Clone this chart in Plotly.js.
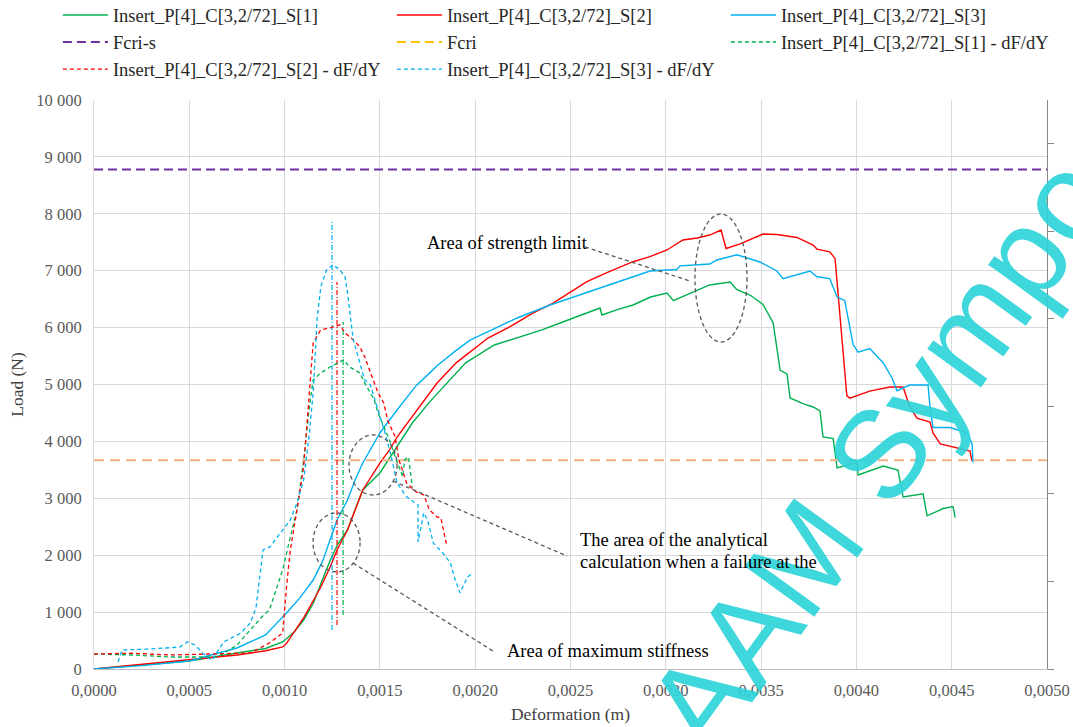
<!DOCTYPE html>
<html>
<head>
<meta charset="utf-8">
<script src="https://cdn.plot.ly/plotly-3.0.1.min.js"></script>
<style>html,body{margin:0;padding:0;background:#fff;}#chart{width:1073px;height:727px;}</style>
</head>
<body>
<div id="chart"></div>
<script>
// ---------- DATA ----------
// Load curves (x: deformation in m, y: load in N)
const s1X = [0,0.00025,0.0005,0.00075,0.0009,0.00099,0.00105,0.0011,0.00115,0.00119,0.00124,0.00128,0.00133,0.00137,0.00141,0.0015,0.00158,0.00167,0.00176,0.00185,0.00195,0.0021,0.00222,0.00235,0.002445,0.00255,0.002655,0.002665,0.00275,0.002828,0.00292,0.003006,0.00304,0.003127,0.00323,0.003337,0.003373,0.003442,0.00351,0.003563,0.0036,0.003636,0.003652,0.00372,0.003773,0.003809,0.003825,0.003878,0.003899,0.004003,0.004009,0.004141,0.004218,0.004245,0.00435,0.004371,0.004455,0.004507,0.004518];
const s1Y = [0,75,140,281,360,475,650,861,1150,1500,1915,2200,2443,2800,3146,3445,3850,4323,4690,5026,5380,5694,5817,5960,6081,6210,6344,6221,6320,6397,6538,6608,6473,6601,6749,6801,6665,6573,6408,6085,5248,5185,4763,4663,4605,4535,4080,4049,3533,3630,3410,3568,3498,3023,3080,2693,2820,2854,2661];

const s2X = [0,0.00025,0.0005,0.00075,0.0009,0.00099,0.00101,0.00105,0.0011,0.00115,0.00119,0.00124,0.001275,0.00133,0.00137,0.00141,0.0015,0.00155,0.00159,0.00165,0.00171,0.0018,0.0019,0.002,0.002067,0.002183,0.0023,0.002409,0.002586,0.0027,0.002828,0.002917,0.003006,0.00309,0.003164,0.00323,0.00329,0.003316,0.00339,0.00351,0.003583,0.003688,0.00374,0.003773,0.003793,0.00386,0.003888,0.00395,0.003966,0.00407,0.004176,0.004245,0.00428,0.004318,0.004386,0.004402,0.00444,0.004528,0.004596,0.004606];
const s2Y = [0,85,158,246,320,387,450,650,900,1200,1441,1800,2091,2443,2800,3146,3620,3849,4077,4350,4605,5026,5380,5650,5817,6016,6250,6432,6807,6980,7158,7248,7364,7540,7575,7627,7715,7390,7470,7645,7635,7584,7505,7450,7380,7330,7216,4800,4760,4884,4955,4955,4605,4410,4340,4148,3955,3885,3831,3660];

const s3X = [0,0.00025,0.0005,0.00075,0.0009,0.00101,0.00108,0.00115,0.0012,0.00124,0.001275,0.00133,0.00137,0.00141,0.0015,0.00159,0.00169,0.00176,0.0018,0.0019,0.001973,0.00222,0.002393,0.002655,0.002917,0.003058,0.003075,0.00323,0.003268,0.003373,0.003405,0.003494,0.003583,0.003615,0.003757,0.003793,0.00386,0.003899,0.003939,0.003983,0.004009,0.00407,0.004141,0.004187,0.004213,0.00428,0.004376,0.004386,0.004402,0.004491,0.004581,0.004607,0.004612];
const s3Y = [0,60,140,369,600,984,1250,1564,1900,2267,2619,2970,3322,3620,4148,4552,4980,5200,5330,5600,5780,6169,6397,6696,6995,7021,7086,7118,7188,7280,7248,7153,6995,6860,6995,6893,6860,6538,6473,5697,5570,5633,5378,5114,4890,4990,4990,4605,4243,4243,4148,3955,3630];

// Critical loads (N)
const fcriS = 8780;
const fcri = 3670;
const xSpan = [0, 0.005];

// dF/dY curves (secondary axis, unlabeled)
const d1X = [0,0.0002,0.0004,0.0006,0.00065,0.00075,0.00082,0.00089,0.00092,0.00096,0.00099,0.00103,0.001065,0.0011,0.00113,0.00115,0.00119,0.00124,0.00131,0.00134,0.001395,0.00142,0.00147,0.00149,0.00152,0.00155,0.00158,0.0016,0.00162,0.00163,0.00165,0.00167];
const d1Y = [171,160,137,137,137,274,450,617,674,937,1131,1509,1817,2389,2995,3303,3383,3452,3532,3452,3383,3269,3075,2926,2766,2617,2423,2309,2195,2389,2423,2080];

const d2X = [0,0.0002,0.0004,0.0006,0.00082,0.00092,0.00099,0.00101,0.00103,0.001065,0.0011,0.00113,0.00115,0.00119,0.00124,0.00129,0.001317,0.00136,0.001395,0.00142,0.00146,0.00149,0.00152,0.00154,0.00158,0.0016,0.00164,0.00169,0.00173,0.00176,0.0018,0.00182,0.00185];
const d2Y = [171,180,160,171,183,297,411,937,1360,1817,2309,3155,3726,3875,3898,3932,3840,3760,3680,3566,3337,3155,3040,2846,2652,2389,2126,2023,1989,1817,1737,1726,1417];

const d3X = [0.000126,0.000147,0.0003,0.00045,0.00049,0.00053,0.00057,0.0006,0.00062,0.00068,0.00077,0.00082,0.00085,0.000887,0.000923,0.00099,0.00103,0.001065,0.0011,0.00113,0.00115,0.00117,0.00119,0.00122,0.001254,0.00129,0.001317,0.001333,0.00136,0.001386,0.00142,0.00145,0.001485,0.001527,0.00156,0.00159,0.00164,0.0017,0.0017,0.00173,0.00175,0.00178,0.00183,0.00187,0.00189,0.00192,0.00196,0.00199];
const d3Y = [80,217,229,251,309,274,183,126,103,309,411,526,700,1360,1394,1589,1703,1897,2160,2697,3155,3989,4366,4560,4618,4560,4480,4252,3760,3566,3303,3246,2995,2697,2423,2126,1966,1875,1452,1783,1703,1440,1326,1212,1052,869,1052,1097];

// Vertical markers at the max-stiffness deformation (x in m, y extent in N)
const vBlueX = 0.001249, vBlueY = [685, 7856];
const vRedX = 0.001275, vRedY = [773, 6800];
const vGreenX = 0.001307, vGreenY = [949, 6098];

const names = ['Insert_P[4]_C[3,2/72]_S[1]','Insert_P[4]_C[3,2/72]_S[2]','Insert_P[4]_C[3,2/72]_S[3]'];
const cGreen = '#00B050', cRed = '#FF0000', cBlue = '#00B0F0';

const FONT = 'Liberation Serif';

const traces = [
  {x:s1X, y:s1Y, name:names[0], mode:'lines', line:{color:cGreen, width:1.4}},
  {x:s2X, y:s2Y, name:names[1], mode:'lines', line:{color:cRed, width:1.4}},
  {x:s3X, y:s3Y, name:names[2], mode:'lines', line:{color:cBlue, width:1.4}},
  {x:xSpan, y:[fcriS, fcriS], name:'Fcri-s', mode:'lines', line:{color:'#7030A0', width:2, dash:'9px,5px'}},
  {x:xSpan, y:[fcri, fcri], name:'Fcri', mode:'lines', showlegend:false, line:{color:'#F4B183', width:2, dash:'10px,6px'}},
  {x:[null], y:[null], name:'Fcri', mode:'lines', line:{color:'#FFC000', width:2, dash:'9px,5px'}},
  {x:d1X, y:d1Y, name:names[0]+' - dF/dY', mode:'lines', yaxis:'y2', line:{color:cGreen, width:1.3, dash:'4px,3px'}},
  {x:d2X, y:d2Y, name:names[1]+' - dF/dY', mode:'lines', yaxis:'y2', line:{color:cRed, width:1.3, dash:'4px,3px'}},
  {x:d3X, y:d3Y, name:names[2]+' - dF/dY', mode:'lines', yaxis:'y2', line:{color:cBlue, width:1.3, dash:'4px,3px'}},
  {x:[vBlueX, vBlueX], y:vBlueY, mode:'lines', showlegend:false, line:{color:cBlue, width:1.2, dash:'5px,2px,1px,2px'}},
  {x:[vRedX, vRedX], y:vRedY, mode:'lines', showlegend:false, line:{color:cRed, width:1.2, dash:'5px,2px,1px,2px'}},
  {x:[vGreenX, vGreenX], y:vGreenY, mode:'lines', showlegend:false, line:{color:cGreen, width:1.2, dash:'5px,2px,1px,2px'}}
];

const dashGrey = {color:'#595959', width:1.3, dash:'4px,3px'};
const shapes = [
  {type:'circle', xref:'x', yref:'y', x0:0.003153, x1:0.003426, y0:5747, y1:7997, line:dashGrey},
  {type:'circle', xref:'x', yref:'y', x0:0.001338, x1:0.00159, y0:3058, y1:4113, line:dashGrey},
  {type:'circle', xref:'x', yref:'y', x0:0.001149, x1:0.001396, y0:1705, y1:2742, line:dashGrey},
  {type:'line', xref:'x', yref:'y', x0:0.002576, y0:7417, x1:0.003127, y1:6819, line:dashGrey},
  {type:'line', xref:'x', yref:'y', x0:0.001569, y0:3304, x1:0.002482, y1:1986, line:dashGrey},
  {type:'line', xref:'x', yref:'y', x0:0.001359, y0:1863, x1:0.002093, y1:316, line:dashGrey}
];

const annFont = {family:FONT, size:18.5, color:'#000000'};
const annotations = [
  {xref:'paper', yref:'paper', x:0.9056, y:0.566, text:'AAM Symposium', showarrow:false, textangle:-54, xanchor:'center', yanchor:'middle',
   opacity:0.92, font:{family:'Liberation Sans', size:125, color:'#2ED4DA'}},
  {xref:'x', yref:'y', x:0.001737, y:7487, text:'Area of strength limit', showarrow:false, xanchor:'left', yanchor:'middle', font:annFont},
  {xref:'x', yref:'y', x:0.002539, y:2267, text:'The area of the analytical', showarrow:false, xanchor:'left', yanchor:'middle', font:annFont},
  {xref:'x', yref:'y', x:0.002539, y:1881, text:'calculation when a failure at the', showarrow:false, xanchor:'left', yanchor:'middle', font:annFont},
  {xref:'x', yref:'y', x:0.002156, y:316, text:'Area of maximum stiffness', showarrow:false, xanchor:'left', yanchor:'middle', font:annFont}
];

const layout = {
  width:1073, height:727,
  margin:{l:94, r:26, t:100, b:58, pad:0, autoexpand:false},
  paper_bgcolor:'#ffffff', plot_bgcolor:'#ffffff',
  separators:', ',
  font:{family:FONT, color:'#404040'},
  showlegend:true,
  legend:{orientation:'h', x:-0.0379, xanchor:'left', y:1.182, yanchor:'top', font:{family:FONT, size:18.5, color:'#262626'},
          entrywidth:274, entrywidthmode:'pixels', itemwidth:45, tracegroupgap:0, bgcolor:'rgba(0,0,0,0)'},
  xaxis:{range:[0,0.005], dtick:0.0005, tick0:0, tickformat:'.4f', showgrid:true, gridcolor:'#d9d9d9', gridwidth:1,
         zeroline:false, showline:true, linecolor:'#bfbfbf', linewidth:1, ticks:'', ticklabelstandoff:6,
         tickfont:{family:FONT, size:16.5, color:'#595959'},
         title:{text:'Deformation (m)', font:{family:FONT, size:17.5, color:'#404040'}, standoff:8}},
  yaxis:{range:[0,10000], dtick:1000, tick0:0, tickformat:',d', showgrid:true, gridcolor:'#d9d9d9', gridwidth:1,
         zeroline:false, showline:true, linecolor:'#d9d9d9', ticks:'', ticklabelstandoff:8,
         tickfont:{family:FONT, size:16.5, color:'#595959'},
         title:{text:'Load (N)', font:{family:FONT, size:17.5, color:'#404040'}, standoff:8}},
  yaxis2:{overlaying:'y', side:'right', range:[0,6500], dtick:1000, tick0:0, showticklabels:false, showgrid:false,
          zeroline:false, showline:true, linecolor:'#868686', linewidth:1, ticks:'outside', ticklen:6, tickcolor:'#868686'},
  shapes:shapes,
  annotations:annotations
};

Plotly.newPlot('chart', traces, layout, {displayModeBar:false, staticPlot:true});
</script>
</body>
</html>
